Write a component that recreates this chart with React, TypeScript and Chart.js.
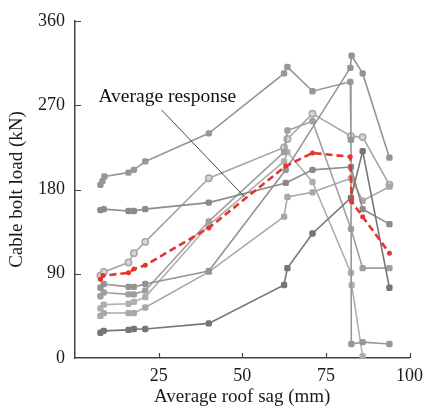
import React, { useEffect, useRef } from "react";
import { Chart, registerables } from "chart.js";

Chart.register(...registerables);

// ---- data ----
const xTicks = [0, 25, 50, 75, 100];
const yTicks = [0, 90, 180, 270, 360];

const averageX = [7.6, 8.4, 16, 17.6, 21, 40, 63, 71, 82.3, 82.7, 86, 94];
const averageY = [84, 88, 91, 95, 99, 139, 205, 219, 215, 167, 151, 112];

const s1X = [7.6, 8.2, 8.8, 16, 17.6, 21, 40, 62.5, 63.5, 71, 82.3, 82.5, 82.6, 86, 94];
const s1Y = [185, 189, 194, 198, 201, 210, 240, 304, 311, 285, 295, 233, 15, 17, 15];

const s2X = [7.6, 8.6, 16, 17.6, 21, 40, 63, 71, 82.5, 86, 94];
const s2Y = [158, 159, 157, 157, 159, 166, 187, 201, 204, 159, 143];

const s3X = [7.6, 8.6, 16, 17.6, 21, 40, 62.5, 63.5, 71, 82.5, 86, 94];
const s3Y = [88, 92, 102, 112, 124, 192, 225, 234, 261, 237, 236, 185];

const s4X = [7.6, 8.6, 16, 17.6, 21, 40, 63, 82.3, 82.7, 86, 94];
const s4Y = [75, 79, 76, 76, 79, 93, 201, 310, 323, 304, 214];

const s5X = [7.6, 8.6, 16, 17.6, 21, 40, 62.5, 63.5, 71, 82.5, 86, 94];
const s5Y = [66, 70, 68, 68, 72, 146, 220, 243, 253, 138, 96, 96];

const s6X = [7.6, 8.6, 16, 17.6, 21, 40, 62.5, 63.5, 71, 82.5, 82.7, 86];
const s6Y = [53, 57, 58, 60, 65, 142, 210, 220, 188, 91, 78, 2];

const s7X = [7.6, 8.6, 16, 17.6, 21, 40, 62.5, 63.5, 71, 82.5, 86, 94];
const s7Y = [45, 48, 48, 48, 54, 92, 151, 172, 177, 192, 168, 183];

const s8X = [7.6, 8.6, 16, 17.6, 21, 40, 62.5, 63.5, 71, 82.5, 86, 94];
const s8Y = [27, 29, 30, 31, 31, 37, 78, 96, 133, 171, 221, 75];

const annotationText = "Average response";
const annotationTextAt = [27.6, 273.5];
const annotationLineFrom = [25.9, 265];
const annotationLineTo = [50.7, 172];

const FONT = "'Liberation Serif', 'Times New Roman', serif";

const pts = (xs: number[], ys: number[]) => xs.map((x, i) => ({ x, y: ys[i] }));

const graySeries = (xs: number[], ys: number[], color: string) => ({
  data: pts(xs, ys),
  borderColor: color,
  backgroundColor: color,
  pointBackgroundColor: color,
  pointBorderColor: color,
  borderWidth: 1.6,
  pointStyle: "rectRounded" as const,
  pointRadius: 3.7,
  pointBorderWidth: 0,
  tension: 0,
});

const inwardTicks = {
  id: "inwardTicks",
  afterDraw(chart: any) {
    const { ctx, chartArea, scales } = chart;
    ctx.save();
    ctx.strokeStyle = "#444";
    ctx.lineWidth = 1.2;
    ctx.beginPath();
    for (const v of xTicks) {
      if (v === 0) continue;
      const px = Math.round(scales.x.getPixelForValue(v)) + 0.5;
      ctx.moveTo(px, chartArea.bottom);
      ctx.lineTo(px, chartArea.bottom - 5);
    }
    for (const v of yTicks) {
      if (v === 0) continue;
      const py = Math.round(scales.y.getPixelForValue(v)) + 0.5;
      ctx.moveTo(chartArea.left, py);
      ctx.lineTo(chartArea.left + 6, py);
    }
    ctx.stroke();
    ctx.restore();
  },
};

const annotation = {
  id: "annotation",
  afterDatasetsDraw(chart: any) {
    const { ctx, scales } = chart;
    const sx = scales.x, sy = scales.y;
    ctx.save();
    ctx.strokeStyle = "#333";
    ctx.lineWidth = 0.9;
    ctx.beginPath();
    ctx.moveTo(sx.getPixelForValue(annotationLineFrom[0]), sy.getPixelForValue(annotationLineFrom[1]));
    ctx.lineTo(sx.getPixelForValue(annotationLineTo[0]), sy.getPixelForValue(annotationLineTo[1]));
    ctx.stroke();
    ctx.fillStyle = "#111";
    ctx.font = `19.5px ${FONT}`;
    ctx.textAlign = "center";
    ctx.textBaseline = "alphabetic";
    ctx.fillText(annotationText, sx.getPixelForValue(annotationTextAt[0]), sy.getPixelForValue(annotationTextAt[1]));
    ctx.restore();
  },
};

export default function App() {
  const ref = useRef<HTMLCanvasElement>(null);
  useEffect(() => {
    document.body.style.margin = "0";
    const canvas = ref.current!;
    const chart = new Chart(canvas, {
      type: "line",
      data: {
        datasets: [
          {
            data: pts(averageX, averageY),
            borderColor: "#e8332d",
            backgroundColor: "#e8332d",
            pointBackgroundColor: "#e8332d",
            pointBorderColor: "#e8332d",
            borderWidth: 2.6,
            borderDash: [7, 4],
            pointStyle: "circle",
            pointRadius: 2.5,
            pointBorderWidth: 0,
            tension: 0,
          },
          graySeries(s8X, s8Y, "#7b7474"),
          graySeries(s2X, s2Y, "#8f8989"),
          graySeries(s1X, s1Y, "#9b9595"),
          graySeries(s4X, s4Y, "#989292"),
          graySeries(s5X, s5Y, "#a39e9e"),
          graySeries(s7X, s7Y, "#aca7a7"),
          graySeries(s6X, s6Y, "#b3aeae"),
          {
            data: pts(s3X, s3Y),
            borderColor: "#aaa5a5",
            backgroundColor: "#d8d4d4",
            pointBackgroundColor: "#d8d4d4",
            pointBorderColor: "#a9a4a4",
            borderWidth: 1.6,
            pointStyle: "circle",
            pointRadius: 3.2,
            pointBorderWidth: 1.5,
            tension: 0,
          },
        ],
      },
      options: {
        responsive: false,
        animation: false,
        events: [],
        layout: { padding: { left: 0, right: 16, top: 21, bottom: 0 } },
        plugins: { legend: { display: false }, tooltip: { enabled: false } },
        scales: {
          x: {
            type: "linear",
            min: 0,
            max: 100,
            afterFit: (s: any) => { s.height = 50; },
            afterBuildTicks: (s: any) => { s.ticks = xTicks.map((v) => ({ value: v })); },
            ticks: {
              padding: 7,
              color: "#1a1a1a",
              font: { family: FONT, size: 18 },
              callback: (v: any) => (v === 0 ? "" : String(v)),
              maxRotation: 0,
            },
            grid: { display: true, drawOnChartArea: false, drawTicks: false },
            border: { display: true, color: "#444", width: 1.5 },
            title: {
              display: true,
              text: "Average roof sag (mm)",
              color: "#1a1a1a",
              font: { family: FONT, size: 19, lineHeight: 1 },
              padding: { top: 0, bottom: 1 },
            },
          },
          y: {
            type: "linear",
            min: 0,
            max: 360,
            afterFit: (s: any) => { s.width = 75; },
            afterBuildTicks: (s: any) => { s.ticks = yTicks.map((v) => ({ value: v })); },
            ticks: {
              padding: 10,
              color: "#1a1a1a",
              font: { family: FONT, size: 18 },
            },
            grid: { display: true, drawOnChartArea: false, drawTicks: false },
            border: { display: true, color: "#444", width: 1.5 },
            title: {
              display: true,
              text: "Cable bolt load (kN)",
              color: "#1a1a1a",
              font: { family: FONT, size: 19, lineHeight: 1 },
              padding: { top: 8, bottom: 0 },
            },
          },
        },
      },
      plugins: [inwardTicks, annotation],
    });
    return () => chart.destroy();
  }, []);
  return (
    <div style={{ width: 430, height: 408, background: "#fff" }}>
      <canvas ref={ref} width={430} height={408} style={{ display: "block" }} />
    </div>
  );
}
